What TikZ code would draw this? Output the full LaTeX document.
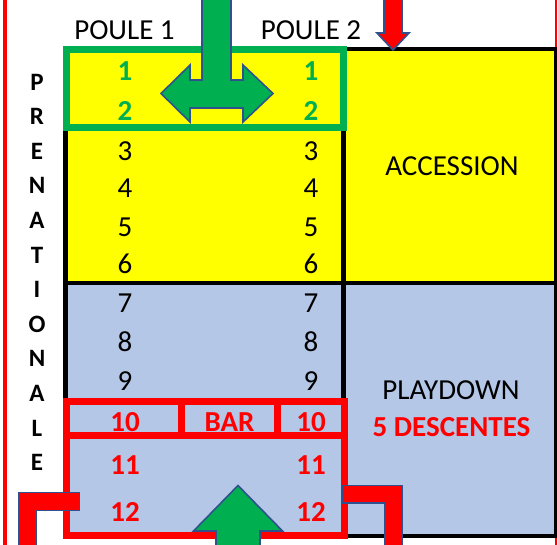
\documentclass[tikz,border=0pt]{standalone}
\usepackage{fontspec}
\setmainfont{Carlito}
\definecolor{cyel}{HTML}{FFFF00}
\definecolor{cblue}{HTML}{B4C7E7}
\definecolor{cgreen}{HTML}{00B050}
\definecolor{cred}{HTML}{FF0000}
\definecolor{coutl}{HTML}{2F528F}
\begin{document}
\begin{tikzpicture}[x=1pt,y=-1pt,
  txt/.style={inner sep=0pt, font=\fontsize{29}{34}\selectfont},
  btxt/.style={inner sep=0pt, font=\fontsize{29}{34}\selectfont\bfseries},
  vletter/.style={inner sep=0pt, font=\fontsize{25}{30}\selectfont\bfseries},
  blackline/.style={draw=black, line width=4.5pt},
  greenbox/.style={draw=cgreen, line width=7pt},
  redbox/.style={draw=cred, line width=7pt},
  arrowshape/.style={draw=coutl, line width=1.6pt, line join=miter},
]
\useasboundingbox (0,0) rectangle (557,545);
\fill[white] (0,0) rectangle (557,545);
% outer red side lines
\fill[cred] (3,0) rectangle (7,545);
\fill[cred] (555,0) rectangle (557,545);
% fills
\fill[cyel] (64,49) rectangle (555,283);
\fill[cblue] (64,283) rectangle (555,536);
% black grid
\draw[blackline] (65.5,126) -- (65.5,401);
\draw[blackline] (343.5,49) -- (555.5,49);
\draw[blackline] (343.5,47) -- (343.5,401);
\draw[blackline] (64,283) -- (555.5,283);
\draw[blackline] (344,536) -- (555.5,536);
\draw[draw=black, line width=3pt] (555.5,47) -- (555.5,538);
% green box
\draw[greenbox] (66.5,49.5) rectangle (343.5,127.5);
% red boxes
\draw[redbox] (66.5,401.5) rectangle (344.5,535.5);
\draw[redbox] (66.5,435.5) -- (344.5,435.5);
\draw[redbox] (181.5,401.5) -- (181.5,435.5);
\draw[redbox] (277.5,401.5) -- (277.5,435.5);
% headers
\node[txt] (p1) at (124.5,30) {POULE 1};
\node[txt] (p2) at (311,30) {POULE 2};
% left vertical word
\foreach \l [count=\i from 0] in {P,R,E,N,A,T,I,O,N,A,L,E}
  \node[vletter] (v\i) at (37,82+34.6*\i) {\l};
% numbers
\node[btxt, text=cgreen] (a1) at (125,71) {1};
\node[btxt, text=cgreen] (b1) at (311,71) {1};
\node[btxt, text=cgreen] (a2) at (125,111) {2};
\node[btxt, text=cgreen] (b2) at (311,111) {2};
\foreach \n/\y in {3/151,4/188,5/227,6/264,7/303,8/342,9/381}{
  \node[txt] (a\n) at (125,\y) {\n};
  \node[txt] (b\n) at (311,\y) {\n};
}
\node[btxt, text=cred] (a10) at (125,422) {10};
\node[btxt, text=cred] (bar) at (229.5,422) {BAR};
\node[btxt, text=cred] (b10) at (311,422) {10};
\node[btxt, text=cred] (a11) at (125,465) {11};
\node[btxt, text=cred] (b11) at (311,465) {11};
\node[btxt, text=cred] (a12) at (125,512) {12};
\node[btxt, text=cred] (b12) at (311,512) {12};
% right column
\node[txt] (acc) at (452,166) {ACCESSION};
\node[txt] (pd) at (451,390.5) {PLAYDOWN};
\node[btxt, text=cred] (desc) at (451.5,427.5) {5 DESCENTES};
% green T arrow (top)
\draw[arrowshape, fill=cgreen] (202,-2) -- (231,-2) -- (231,80) -- (243,80) -- (243,65)
  -- (273,93.5) -- (243,122) -- (243,108) -- (190,108) -- (190,122) -- (161,93.5)
  -- (190,65) -- (190,80) -- (202,80) -- cycle;
% red down arrow (top right)
\draw[arrowshape, fill=cred] (384,-2) -- (402,-2) -- (402,33) -- (409,33) -- (393,50)
  -- (377,33) -- (384,33) -- cycle;
% red L shapes (bottom)
\draw[arrowshape, fill=cred] (19,547) -- (19,492.5) -- (79.5,492.5) -- (79.5,510.5)
  -- (36,510.5) -- (36,547) -- cycle;
\draw[arrowshape, fill=cred] (342,485.5) -- (402.5,485.5) -- (402.5,547) -- (385,547)
  -- (385,503) -- (342,503) -- cycle;
% green up arrow (bottom)
\draw[arrowshape, fill=cgreen] (238,485.5) -- (282.5,531) -- (260,531) -- (260,547)
  -- (216,547) -- (216,531) -- (193.5,531) -- cycle;
\end{tikzpicture}
\end{document}
